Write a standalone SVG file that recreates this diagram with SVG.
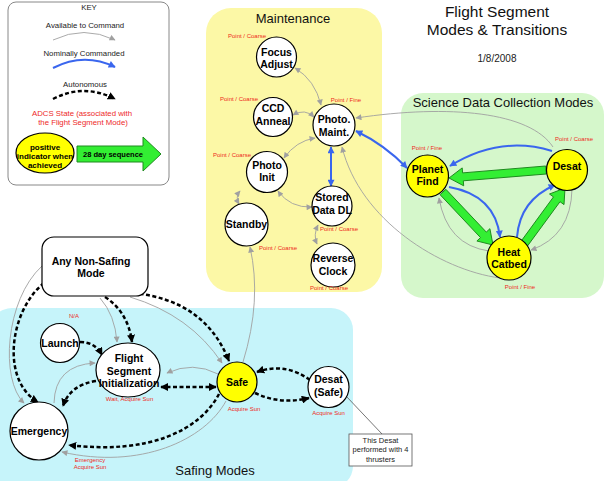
<svg xmlns="http://www.w3.org/2000/svg" width="608" height="481" viewBox="0 0 608 481">
<style>
text{font-family:"Liberation Sans",Arial,sans-serif}
.nt{font-size:10.5px;font-weight:bold;text-anchor:middle;fill:#000}
.lb{font-size:6px;text-anchor:middle;fill:#ee2a1a}
.kt{font-size:7.8px;text-anchor:middle;fill:#222}
.rt{font-size:13px;text-anchor:middle;fill:#111}
.node{fill:#fff;stroke:#000;stroke-width:1.2}
.ynode{fill:#ffff00;stroke:#000;stroke-width:1.2}
.g{fill:none;stroke:#a0a0a0;stroke-width:0.9;marker-end:url(#ag)}
.g2{fill:none;stroke:#a0a0a0;stroke-width:0.9;marker-end:url(#ag);marker-start:url(#ag)}
.b{fill:none;stroke:#3a66ee;stroke-width:2;marker-end:url(#ab)}
.b2{fill:none;stroke:#3a66ee;stroke-width:2;marker-end:url(#ab);marker-start:url(#ab)}
.d{fill:none;stroke:#000;stroke-width:2.5;stroke-dasharray:4 2.5;marker-end:url(#ad)}
.d2{fill:none;stroke:#000;stroke-width:2.5;stroke-dasharray:4 2.5;marker-end:url(#ad);marker-start:url(#ad)}
.ga{fill:#33ee33;stroke:#1f8a1f;stroke-width:1}
</style>
<defs>
<marker id="ag" viewBox="0 0 10 10" refX="9" refY="5" markerWidth="7" markerHeight="6" markerUnits="userSpaceOnUse" orient="auto-start-reverse"><path d="M0,0 L10,5 L0,10 z" fill="#a0a0a0"/></marker>
<marker id="ab" viewBox="0 0 10 10" refX="9" refY="5" markerWidth="8" markerHeight="7" markerUnits="userSpaceOnUse" orient="auto-start-reverse"><path d="M0,0 L10,5 L0,10 z" fill="#3a66ee"/></marker>
<marker id="ad" viewBox="0 0 10 10" refX="9" refY="5" markerWidth="8" markerHeight="8" markerUnits="userSpaceOnUse" orient="auto-start-reverse"><path d="M0,0 L10,5 L0,10 z" fill="#000"/></marker>
</defs>
<rect width="608" height="481" fill="#fff"/>

<g id="regions">
<rect x="206" y="8" width="176" height="284" rx="25" fill="#fcf8a6"/>
<rect x="401" y="93" width="203" height="205" rx="22" fill="#d5f7cb"/>
<rect x="-10" y="308" width="363" height="180" rx="22" fill="#c6f4fa"/>
<text class="rt" x="293" y="23">Maintenance</text>
<text class="rt" x="503" y="107">Science Data Collection Modes</text>
<text class="rt" x="215" y="475">Safing Modes</text>
</g>

<g id="title">
<text x="497" y="17" font-size="15.5" text-anchor="middle" fill="#111">Flight Segment</text>
<text x="497" y="35" font-size="15.5" text-anchor="middle" fill="#111">Modes &amp; Transitions</text>
<text x="497" y="62" font-size="10" text-anchor="middle" fill="#222">1/8/2008</text>
</g>

<g id="key">
<rect x="8" y="2" width="161" height="183" rx="8" fill="#fff" stroke="#888" stroke-width="1"/>
<text class="kt" x="89" y="10" font-size="8">KEY</text>
<text class="kt" x="85" y="27.5">Available to Command</text>
<path class="g" d="M53,40 Q84,25 115,40"/>
<text class="kt" x="84" y="55.5">Nominally Commanded</text>
<path class="b" d="M53,68 Q84,52 115,67"/>
<text class="kt" x="85" y="86.5">Autonomous</text>
<path class="d" d="M53,99 Q84,83 115,99"/>
<text class="kt" x="82" y="115.5" style="fill:#ee2a2a">ADCS State (associated with</text>
<text class="kt" x="83" y="125" style="fill:#ee2a2a">the Flight Segment Mode)</text>
<ellipse cx="45" cy="153" rx="29" ry="20" class="ynode"/>
<text x="45" y="149.5" font-size="8" font-weight="bold" text-anchor="middle">positive</text>
<text x="45" y="158.5" font-size="8" font-weight="bold" text-anchor="middle">indicator when</text>
<text x="45" y="168" font-size="8" font-weight="bold" text-anchor="middle">achieved</text>
<polygon class="ga" points="77,146 143,146 143,137 161,154 143,171 143,162 77,162"/>
<text x="113" y="157" font-size="7.5" font-weight="bold" text-anchor="middle">28 day sequence</text>
</g>

<g id="connectors">
<!-- maintenance -->
<path class="g2" d="M295,68 Q315,80 321,105"/>
<path class="g2" d="M293,115 Q305,108 314,117"/>
<path class="g2" d="M284,158 Q296,141 315,138"/>
<path class="b2" d="M331,147 L331,186"/>
<path class="g2" d="M240,191 Q235,197 239,204"/>
<path class="g2" d="M278,191 Q290,208 312,207"/>
<path class="g2" d="M318,225 Q313,235 317,244"/>
<!-- to photo maint from science -->
<path class="g" d="M553,147 C530,112 450,104 356,118"/>
<path class="g" d="M500,278 C440,270 360,220 342,147"/>
<path class="b2" d="M356,131 Q385,145 407,168"/>
<!-- science -->
<polygon class="ga" points="545.7,166 462.6,172.9 462.2,167.9 449,178 463.7,185.8 463.3,180.8 546.3,174"/>
<polygon class="ga" points="440.1,194.7 480.5,237.6 476.9,241 493,245 489.9,228.7 486.3,232.1 445.9,189.3"/>
<polygon class="ga" points="527.2,246.4 560,201.7 564,204.6 565,188 549.5,194 553.5,196.9 520.8,241.6"/>
<path class="b" d="M552,151 Q500,135 450,166"/>
<path class="b" d="M449,187 Q495,195 500,237"/>
<path class="b" d="M517,237 Q520,200 555,185"/>
<path class="g" d="M489,251 Q447,245 439,198"/>
<path class="g" d="M572,189 Q571,236 531,250"/>
<!-- safe to standby -->
<path class="g" d="M243,362 Q262,300 250,247"/>
<!-- safing -->
<path class="g" d="M42,266 C5,300 0,380 24,403"/>
<path class="d" d="M44,283 C10,310 0,380 38,402"/>
<path class="g" d="M100,298 Q115,315 117,342"/>
<path class="d" d="M105,297 Q128,312 132,342"/>
<path class="d" d="M133,293 Q205,300 229,361"/>
<path class="g" d="M130,297 Q190,315 222,363"/>
<path class="d" d="M80,342 Q95,342 102,355"/>
<path class="d" d="M96,381 Q70,385 63,406"/>
<path class="g" d="M54,403 Q55,365 95,363"/>
<path class="d2" d="M216,387 L161,387"/>
<path class="g" d="M218,374 Q193,361 167,373"/>
<path class="d" d="M219,394 C200,430 150,455 69,445"/>
<path class="g" d="M226,401 C205,440 140,470 62,452"/>
<path class="d" d="M310,380 Q285,362 257,372"/>
<path class="d" d="M255,393 Q280,405 309,398"/>
<path d="M346,396 L382,434" stroke="#666" stroke-width="0.9" fill="none"/>
</g>

<g id="focus-adjust"><circle class="node" cx="276.5" cy="57" r="20"/><text class="nt" x="276.5" y="56">Focus</text><text class="nt" x="276.5" y="67.5">Adjust</text><text class="lb" x="247" y="38">Point / Coarse</text></g>
<g id="ccd-anneal"><circle class="node" cx="273" cy="117" r="19.5"/><text class="nt" x="273" y="112">CCD</text><text class="nt" x="273" y="125">Anneal</text><text class="lb" x="239" y="101">Point / Coarse</text></g>
<g id="photo-maint"><circle class="node" cx="334" cy="125" r="21"/><text class="nt" x="334" y="123">Photo.</text><text class="nt" x="334" y="135.5">Maint.</text><text class="lb" x="346" y="102">Point / Fine</text></g>
<g id="photo-init"><circle class="node" cx="267" cy="172" r="20.5"/><text class="nt" x="267" y="168.5">Photo</text><text class="nt" x="267" y="181">Init</text><text class="lb" x="232" y="157">Point / Coarse</text></g>
<g id="stored-data-dl"><circle class="node" cx="332" cy="206" r="20"/><text class="nt" x="332" y="200.5">Stored</text><text class="nt" x="332" y="213.5">Data DL</text><text class="lb" x="339" y="231">Point / Coarse</text></g>
<g id="standby"><circle class="node" cx="246.5" cy="224.5" r="21.5"/><text class="nt" x="246.5" y="228">Standby</text><text class="lb" x="278" y="250">Point / Coarse</text></g>
<g id="reverse-clock"><circle class="node" cx="333" cy="265" r="22"/><text class="nt" x="333" y="261.5">Reverse</text><text class="nt" x="333" y="274.5">Clock</text><text class="lb" x="329" y="290">Point / Coarse</text></g>

<g id="planet-find"><circle class="ynode" cx="427.5" cy="176" r="21"/><text class="nt" x="427.5" y="172.5">Planet</text><text class="nt" x="427.5" y="184.5">Find</text><text class="lb" x="427" y="150">Point / Fine</text></g>
<g id="desat"><circle class="ynode" cx="567" cy="170" r="20.5"/><text class="nt" x="567" y="169.5">Desat</text><text class="lb" x="574" y="141">Point / Coarse</text></g>
<g id="heat-catbed"><circle class="ynode" cx="509" cy="258" r="22"/><text class="nt" x="509" y="255.5">Heat</text><text class="nt" x="509" y="268">Catbed</text><text class="lb" x="520" y="289">Point / Fine</text></g>

<g id="any-non-safing"><rect class="node" x="42" y="237" width="106" height="59" rx="12"/><text class="nt" x="91" y="264.5">Any Non-Safing</text><text class="nt" x="91" y="276.5">Mode</text></g>
<g id="launch"><circle class="node" cx="60" cy="343" r="19.5"/><text class="nt" x="60" y="346.5">Launch</text><text class="lb" x="74" y="318">N/A</text></g>
<g id="flight-segment-init"><ellipse class="node" cx="128" cy="370" rx="32" ry="27"/><text class="nt" x="129" y="361.5">Flight</text><text class="nt" x="129" y="374.5">Segment</text><text class="nt" x="129" y="387">Initialization</text><text class="lb" x="129.5" y="401">Wait, Acquire Sun</text></g>
<g id="emergency"><circle class="node" cx="39" cy="431" r="29"/><text class="nt" x="39" y="435">Emergency</text><text class="lb" x="90" y="462">Emergency</text><text class="lb" x="90" y="469">Acquire Sun</text></g>
<g id="safe"><circle class="ynode" cx="237" cy="382" r="20"/><text class="nt" x="237" y="386">Safe</text><text class="lb" x="244" y="411">Acquire Sun</text></g>
<g id="desat-safe"><circle class="node" cx="328.5" cy="387" r="20.5"/><text class="nt" x="328.5" y="382.5">Desat</text><text class="nt" x="328.5" y="395.5">(Safe)</text><text class="lb" x="328.5" y="415">Acquire Sun</text></g>
<g id="note"><rect x="349" y="434" width="63" height="32" fill="#fff" stroke="#555" stroke-width="0.8"/><text x="380.5" y="443" font-size="7.5" text-anchor="middle" fill="#222">This Desat</text><text x="380.5" y="452" font-size="7.5" text-anchor="middle" fill="#222">performed with 4</text><text x="380.5" y="462" font-size="7.5" text-anchor="middle" fill="#222">thrusters</text></g>
</svg>
